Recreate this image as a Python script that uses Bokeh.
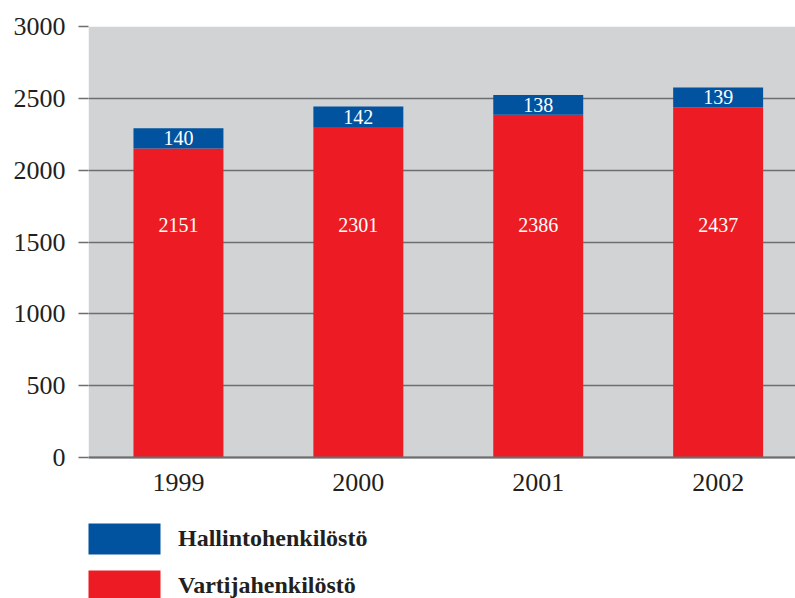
from bokeh.plotting import figure
from bokeh.models import (ColumnDataSource, Legend, LegendItem, FixedTicker,
                          Range1d, BoxAnnotation, Span)
from bokeh.core.properties import value
from bokeh.embed import file_html
from bokeh.resources import INLINE

years = ["1999", "2000", "2001", "2002"]
vartija = [2151, 2301, 2386, 2437]
hallinto = [140, 142, 138, 139]
y_ticks = [0, 500, 1000, 1500, 2000, 2500, 3000]
series_names = ["Hallintohenkilöstö", "Vartijahenkilöstö"]

RED = "#ed1c24"
BLUE = "#0153a0"
GRID = "#6d6e71"
TEXT = "#231f20"
BG = "#d1d3d4"
FONT = "Liberation Serif"

Y_MAX = 3000
# frame spans the chart plus the legend area below it (141 px of 572 px)
Y_MIN = -Y_MAX * 141 / 431

xs = list(range(len(years)))
totals = [v + h for v, h in zip(vartija, hallinto)]
h_mid = [v + h / 2 for v, h in zip(vartija, hallinto)]
red_label_y = [1615] * len(years)

src = ColumnDataSource(dict(
    x=xs, vartija=vartija, hallinto=hallinto, total=totals, h_mid=h_mid,
    red_y=red_label_y, zero=[0] * len(years), year=years,
    v_txt=[str(v) for v in vartija], h_txt=[str(h) for h in hallinto],
))

p = figure(width=795, height=598, output_backend="svg", toolbar_location=None,
           x_range=Range1d(-0.5, 3.43), y_range=Range1d(Y_MIN, Y_MAX),
           min_border_left=88, min_border_right=0, min_border_top=26,
           min_border_bottom=0)
p.background_fill_color = "white"
p.border_fill_color = "white"
p.outline_line_color = None

# grey plot background only over the 0..3000 value band
p.add_layout(BoxAnnotation(bottom=0, top=Y_MAX, fill_color=BG, fill_alpha=1,
                           line_color=None, level="image"))

r_red = p.vbar(x="x", bottom=0, top="vartija", width=0.5, source=src,
               fill_color=RED, line_color=None)
r_blue = p.vbar(x="x", bottom="vartija", top="total", width=0.5, source=src,
                fill_color=BLUE, line_color=None)

p.text(x="x", y="red_y", text="v_txt", source=src, text_color="white",
       text_font=value(FONT), text_font_size="20px", text_align="center",
       text_baseline="middle")
p.text(x="x", y="h_mid", text="h_txt", source=src, text_color="white",
       text_font=value(FONT), text_font_size="20px", text_align="center",
       text_baseline="middle")

# year labels under the baseline
p.text(x="x", y="zero", text="year", source=src, text_color=TEXT,
       text_font=value(FONT), text_font_size="26px", text_align="center",
       text_baseline="top", y_offset=16)

# baseline
p.add_layout(Span(location=0, dimension="width", line_color=GRID,
                  line_width=2))

# grid
p.xgrid.grid_line_color = None
p.ygrid.ticker = FixedTicker(ticks=y_ticks)
p.ygrid.grid_line_color = GRID
p.ygrid.grid_line_width = 1.5

# y axis
p.yaxis.ticker = FixedTicker(ticks=y_ticks)
p.yaxis.axis_line_color = None
p.yaxis.major_tick_in = 0
p.yaxis.major_tick_out = 10
p.yaxis.major_tick_line_color = GRID
p.yaxis.major_tick_line_width = 1.5
p.yaxis.minor_tick_line_color = None
p.yaxis.major_label_standoff = 13
p.yaxis.major_label_text_font = FONT
p.yaxis.major_label_text_font_size = "26px"
p.yaxis.major_label_text_color = TEXT

p.xaxis.visible = False

legend = Legend(items=[
    LegendItem(label=series_names[0], renderers=[r_blue]),
    LegendItem(label=series_names[1], renderers=[r_red]),
], location=(-9, -7), orientation="vertical")
legend.glyph_width = 90
legend.glyph_height = 39
legend.spacing = 8
legend.padding = 0
legend.margin = 0
legend.label_standoff = 9
legend.label_text_font = FONT
legend.label_text_font_style = "bold"
legend.label_text_font_size = "24px"
legend.label_text_color = TEXT
legend.border_line_color = None
legend.background_fill_alpha = 0
p.add_layout(legend, "center")

open("out.html", "w").write(file_html(p, INLINE))
